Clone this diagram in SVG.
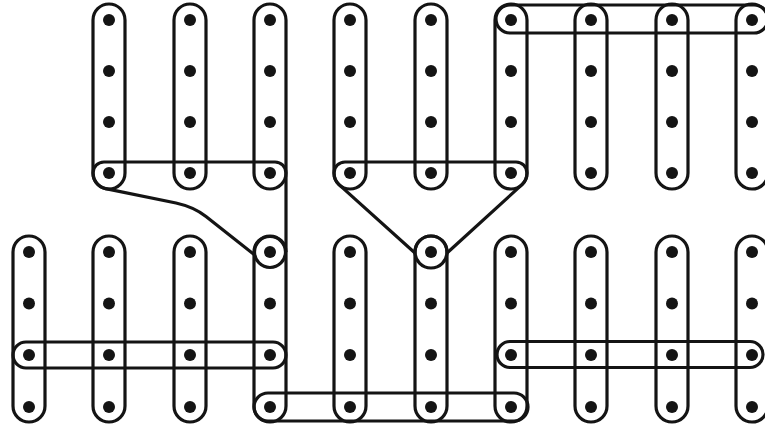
<svg xmlns="http://www.w3.org/2000/svg" width="765" height="430" viewBox="0 0 765 430">
<style>
.cap{fill:none;stroke:#141414;stroke-width:3.2}
.ln{fill:none;stroke:#141414;stroke-width:3.2;stroke-linejoin:round}
.dot{fill:#141414}
</style>
<rect x="0" y="0" width="765" height="430" fill="#ffffff"/>
<defs>
<g id="topcol"><rect class="cap" x="-16" y="4" width="32" height="185" rx="16"/><circle class="dot" cx="0" cy="20" r="6"/><circle class="dot" cx="0" cy="71" r="6"/><circle class="dot" cx="0" cy="122" r="6"/><circle class="dot" cx="0" cy="173" r="6"/></g>
<g id="botcol"><rect class="cap" x="-16" y="236" width="32" height="186" rx="16"/><circle class="dot" cx="0" cy="252" r="6"/><circle class="dot" cx="0" cy="303.5" r="6"/><circle class="dot" cx="0" cy="355" r="6"/><circle class="dot" cx="0" cy="407" r="6"/></g>
</defs>
<g id="top-row">
<g id="t1"><use href="#topcol" x="109"/></g>
<g id="t2"><use href="#topcol" x="190"/></g>
<g id="t3"><use href="#topcol" x="270"/></g>
<g id="t4"><use href="#topcol" x="350"/></g>
<g id="t5"><use href="#topcol" x="431"/></g>
<g id="t6"><use href="#topcol" x="511"/></g>
<g id="t7"><use href="#topcol" x="591"/></g>
<g id="t8"><use href="#topcol" x="672"/></g>
<g id="t9"><use href="#topcol" x="752"/></g>
</g>
<g id="bottom-row">
<g id="b0"><use href="#botcol" x="29"/></g>
<g id="b1"><use href="#botcol" x="109"/></g>
<g id="b2"><use href="#botcol" x="190"/></g>
<g id="b3"><use href="#botcol" x="270"/></g>
<g id="b4"><use href="#botcol" x="350"/></g>
<g id="b5"><use href="#botcol" x="431"/></g>
<g id="b6"><use href="#botcol" x="511"/></g>
<g id="b7"><use href="#botcol" x="591"/></g>
<g id="b8"><use href="#botcol" x="672"/></g>
<g id="b9"><use href="#botcol" x="752"/></g>
</g>
<g id="connectors">
<rect class="cap" x="496" y="5" width="272" height="28" rx="14"/>
<rect class="cap" x="13" y="342" width="273" height="26" rx="13"/>
<rect class="cap" x="497" y="341.5" width="266" height="26" rx="13"/>
<rect class="cap" x="254" y="393" width="274" height="28" rx="14"/>
<path class="ln" d="M286,252 L286,173 A11 11 0 0 0 275,162 L104,162 A11 11 0 0 0 93,173 A16 16 0 0 0 105.6,188.6 L176,203 Q194,207 206,216.5 L255,255.2"/>
<circle class="cap" cx="270" cy="252" r="15.5"/>
<path class="ln" d="M415,253 L339.3,184.9 A16 16 0 0 1 334,173 A11 11 0 0 1 345,162 L516,162 A11 11 0 0 1 527,173 A16 16 0 0 1 521.7,184.9 L447,253"/>
<circle class="cap" cx="431" cy="252" r="16"/>
</g>
</svg>
